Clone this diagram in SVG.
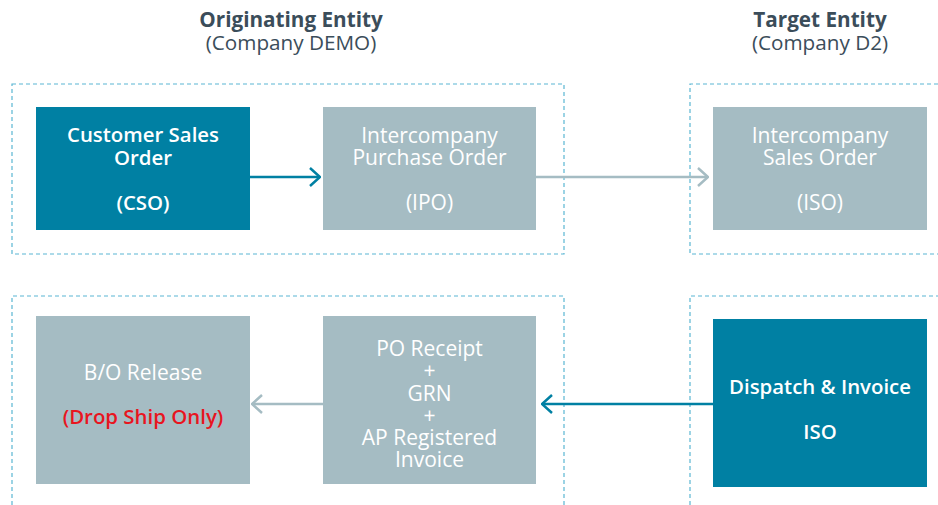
<svg xmlns="http://www.w3.org/2000/svg" width="938" height="505" viewBox="0 0 938 505">
<style>
.title{font-family:"Open Sans","Liberation Sans",sans-serif;font-size:20.7px;fill:#3b4d5a;text-anchor:middle}
.frame{fill:none;stroke:#5ab6d3;stroke-width:1.2;stroke-dasharray:4 3}
.teal{fill:#0080a3}
.grey{fill:#a5bcc3}
.lbl{font-family:"Open Sans","Liberation Sans",sans-serif;font-size:20.4px;fill:#ffffff;text-anchor:middle;font-weight:600}
.lblg{font-family:"Open Sans","Liberation Sans",sans-serif;font-size:21px;fill:#ffffff;text-anchor:middle}
.red{fill:#e8151f}
.c1{stroke:#0080a3;stroke-width:2.5;fill:none}
.c2{stroke:#a5bcc3;stroke-width:2.5;fill:none}
</style>
<defs>
<marker id="ah1" viewBox="0 0 12 20" refX="11" refY="10" markerWidth="12" markerHeight="20" markerUnits="userSpaceOnUse" orient="auto"><path d="M1,1 L11,10 L1,19" fill="none" stroke="#0080a3" stroke-width="2.5"/></marker>
<marker id="ah2" viewBox="0 0 12 20" refX="11" refY="10" markerWidth="12" markerHeight="20" markerUnits="userSpaceOnUse" orient="auto"><path d="M1,1 L11,10 L1,19" fill="none" stroke="#a5bcc3" stroke-width="2.5"/></marker>
</defs>
<rect width="938" height="505" fill="#ffffff"/>
<g id="titles">
<text class="title" x="291" y="27" font-weight="700">Originating Entity</text>
<text class="title" x="291" y="50">(Company DEMO)</text>
<text class="title" x="820" y="27" font-weight="700">Target Entity</text>
<text class="title" x="820" y="50">(Company D2)</text>
</g>
<g id="frames">
<rect class="frame" x="12" y="84" width="552" height="170"/>
<path class="frame" d="M938,84 H690 V254 H938"/>
<path class="frame" d="M12,505 V296 H564 V505"/>
<path class="frame" d="M690,505 V296 H938"/>
</g>
<g id="connectors">
<line class="c1" x1="250" y1="177" x2="320" y2="177" marker-end="url(#ah1)"/>
<line class="c2" x1="536" y1="177" x2="708" y2="177" marker-end="url(#ah2)"/>
<line class="c1" x1="713" y1="404" x2="542" y2="404" marker-end="url(#ah1)"/>
<line class="c2" x1="323" y1="404" x2="252" y2="404" marker-end="url(#ah2)"/>
</g>
<g id="cso">
<rect class="teal" x="36" y="107" width="214" height="123"/>
<text class="lbl" x="143" y="142">Customer Sales</text>
<text class="lbl" x="143" y="165">Order</text>
<text class="lbl" x="143" y="210">(CSO)</text>
</g>
<g id="ipo">
<rect class="grey" x="323" y="107" width="213" height="123"/>
<text class="lblg" x="429.5" y="143">Intercompany</text>
<text class="lblg" x="429.5" y="165">Purchase Order</text>
<text class="lblg" x="429.5" y="210">(IPO)</text>
</g>
<g id="iso">
<rect class="grey" x="713" y="107" width="214" height="123"/>
<text class="lblg" x="820" y="143">Intercompany</text>
<text class="lblg" x="820" y="165">Sales Order</text>
<text class="lblg" x="820" y="210">(ISO)</text>
</g>
<g id="bo">
<rect class="grey" x="36" y="316" width="214" height="168"/>
<text class="lblg" x="143" y="380">B/O Release</text>
<text class="lbl red" x="143" y="424">(Drop Ship Only)</text>
</g>
<g id="po">
<rect class="grey" x="323" y="316" width="213" height="168"/>
<text class="lblg" x="429.5" y="356">PO Receipt</text>
<text class="lblg" x="429.5" y="378">+</text>
<text class="lblg" x="429.5" y="401">GRN</text>
<text class="lblg" x="429.5" y="423">+</text>
<text class="lblg" x="429.5" y="445">AP Registered</text>
<text class="lblg" x="429.5" y="467">Invoice</text>
</g>
<g id="dispatch">
<rect class="teal" x="713" y="319" width="214" height="168"/>
<text class="lbl" x="820" y="394">Dispatch &amp; Invoice</text>
<text class="lbl" x="820" y="439">ISO</text>
</g>
</svg>
